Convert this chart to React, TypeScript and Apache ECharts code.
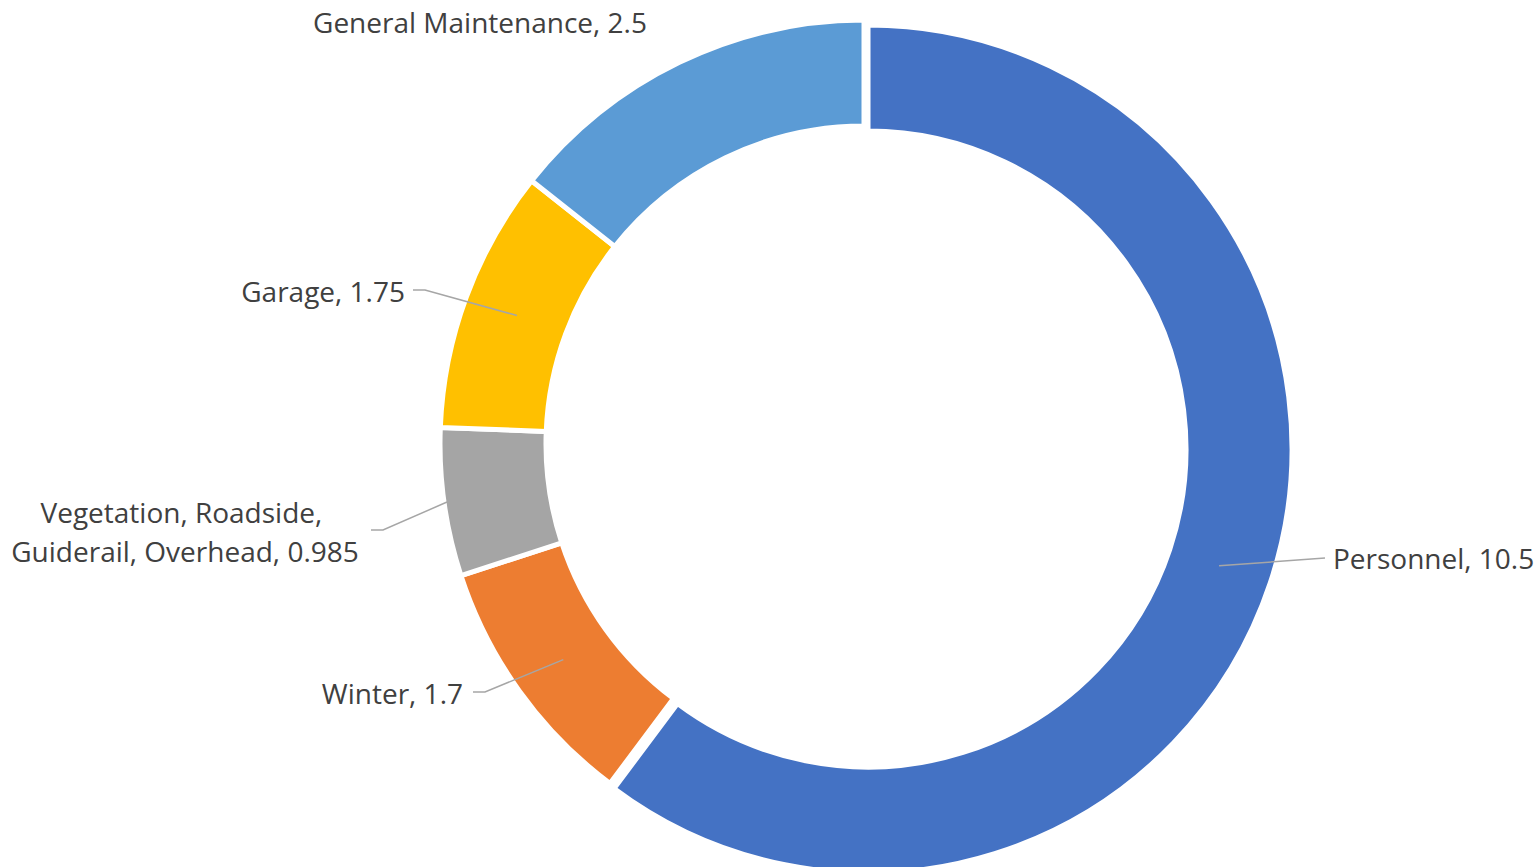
import React, { useEffect, useRef } from 'react';
import * as echarts from 'echarts';

const categories = ['Personnel', 'Winter', 'Vegetation, Roadside, Guiderail, Overhead', 'Garage', 'General Maintenance'];
const values = [10.5, 1.7, 0.985, 1.75, 2.5];
const colors = ['#4472C4', '#ED7D31', '#A5A5A5', '#FFC000', '#5B9BD5'];
// the exploded (pulled-out) slice
const explodedIndex = 0;

const CX = 864;
const CY = 444;
const EX_DX = 4;
const EX_DY = 5;
const R_IN = 318;
const R_OUT = 424;
const R_MID = 370;

// label anchors (layout only)
const labelAnchors: any[] = [
  { x: 1333, y: 558, align: 'left', bend: [[1325, 558]], r: R_MID },
  { x: 463, y: 693, align: 'right', bend: [[473, 692], [485, 692]], r: R_MID },
  { x: 185, y: 531, align: 'center', bend: [[371, 530], [383, 530]], r: R_OUT - 3 },
  { x: 405, y: 291, align: 'right', bend: [[413, 290], [425, 290]], r: R_MID },
  { x: 480, y: 22, align: 'center', bend: null, r: R_MID },
];

const total = values.reduce((a, b) => a + b, 0);
function midPoint(i: number, r: number): number[] {
  const cx = i === explodedIndex ? CX + EX_DX : CX;
  const cy = i === explodedIndex ? CY + EX_DY : CY;
  let cum = 0;
  for (let k = 0; k < i; k++) cum += values[k];
  const mid = cum + values[i] / 2;
  const a = ((90 - (mid / total) * 360) * Math.PI) / 180;
  return [cx + r * Math.cos(a), cy - r * Math.sin(a)];
}

const hidden = { color: 'rgba(0,0,0,0)', borderColor: 'rgba(0,0,0,0)', borderWidth: 0 };

const base = {
  type: 'pie',
  radius: [R_IN, R_OUT],
  startAngle: 90,
  clockwise: true,
  avoidLabelOverlap: false,
  silent: true,
  emphasis: { disabled: true },
};

// ring slices: mode 'normal' draws all but the exploded slice, 'exploded' draws only it
function ringSeries(exploded: boolean) {
  return {
    ...base,
    z: 2,
    center: exploded ? [CX + EX_DX, CY + EX_DY] : [CX, CY],
    itemStyle: { borderColor: '#ffffff', borderWidth: 5 },
    label: { show: false },
    labelLine: { show: false },
    data: categories.map((name, i) => ({
      name,
      value: values[i],
      itemStyle: (i === explodedIndex) === exploded ? { color: colors[i] } : hidden,
    })),
  };
}

// data labels with leader lines, drawn above the ring
function labelSeries() {
  return {
    ...base,
    z: 5,
    center: [CX, CY],
    itemStyle: hidden,
    label: {
      show: true,
      position: 'outside',
      formatter: '{b}, {c}',
      color: '#404040',
      fontFamily: 'Open Sans',
      fontSize: 28,
      lineHeight: 39,
    },
    labelLine: {
      show: true,
      lineStyle: { color: '#A6A6A6', width: 1.5 },
    },
    labelLayout: (params: any) => {
      const i = params.dataIndex;
      const an = labelAnchors[i];
      const res: any = { x: an.x, y: an.y, align: an.align, verticalAlign: 'middle' };
      if (an.bend) {
        res.labelLinePoints = [...an.bend, midPoint(i, an.r)];
      }
      return res;
    },
    data: categories.map((name, i) => ({
      name,
      value: values[i],
      label: i === 2 ? { width: 380, overflow: 'break' } : {},
      labelLine: { show: labelAnchors[i].bend != null },
    })),
  };
}

export default function App() {
  const ref = useRef<HTMLDivElement>(null);
  useEffect(() => {
    if (!ref.current) return;
    const chart = echarts.init(ref.current, null, { renderer: 'svg' });
    chart.setOption({
      animation: false,
      backgroundColor: '#ffffff',
      series: [ringSeries(false), ringSeries(true), labelSeries()],
    });
    return () => chart.dispose();
  }, []);
  return (
    <div
      ref={ref}
      style={{ position: 'absolute', left: 0, top: 0, width: 1538, height: 867 }}
    />
  );
}
